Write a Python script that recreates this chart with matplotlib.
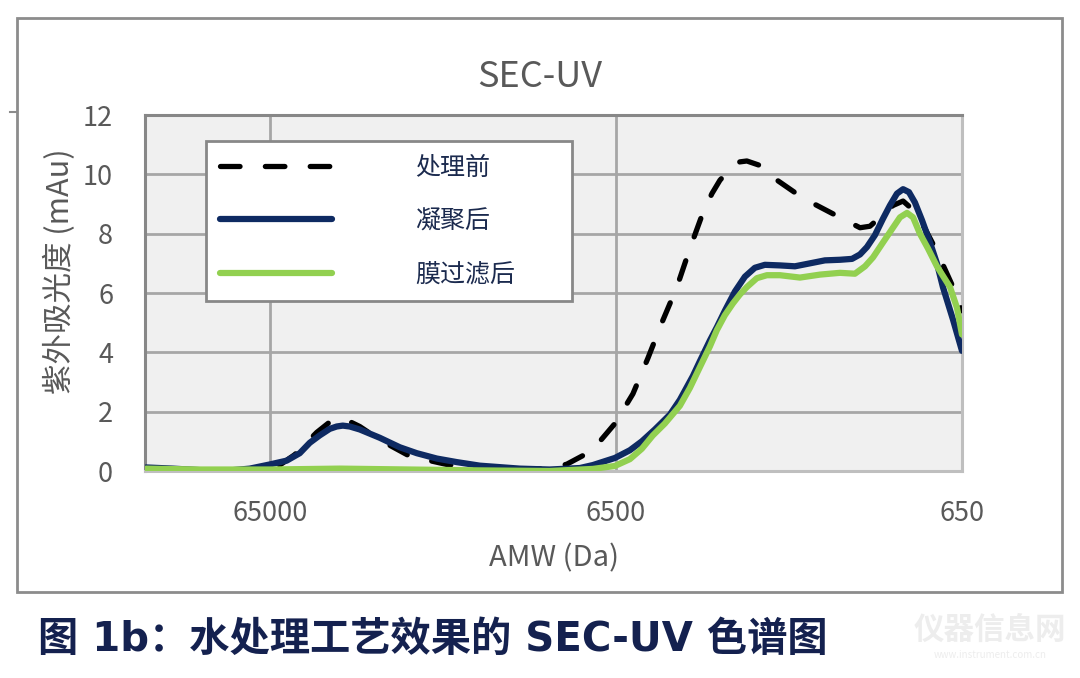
import matplotlib
matplotlib.use("Agg")
import matplotlib.pyplot as plt
from matplotlib.patches import Rectangle
from matplotlib.lines import Line2D
from matplotlib.ticker import NullLocator, FixedLocator

plt.rcParams['font.family'] = ['Noto Sans CJK SC', 'DejaVu Sans']

# ---------------- data ----------------
series_labels = ['处理前', '凝聚后', '膜过滤后']

mw_before = [148000, 123900, 84800, 65000, 60810, 55030, 47550, 43600, 39980, 35710,
             31260, 25600, 20010, 16070, 12310, 10090, 9005, 7626, 6540, 5803,
             5253, 4786, 4331, 3972, 3644, 3431, 3253, 2983, 2848, 2719, 2493, 2287,
             1873, 1494, 1281, 1199, 1122, 1029, 962, 900, 843, 768, 690, 650]
uv_before = [0.02, 0.0, 0.0, 0.05, 0.2, 0.55, 1.3, 1.65, 1.78, 1.5,
             1.05, 0.5, 0.22, 0.1, 0.05, 0.08, 0.23, 0.68, 1.6, 2.6,
             3.8, 5.0, 6.2, 7.5, 8.7, 9.35, 9.8, 10.3, 10.42, 10.45, 10.3, 9.9,
             9.2, 8.6, 8.2, 8.25, 8.55, 8.95, 9.1, 8.8, 8.3, 7.4, 6.2, 5.4]

mw_coag = [148000, 123900, 103600, 84800, 74260, 65000, 58040, 53230, 49810, 46610,
           43600, 41630, 39980, 38160, 35710, 31260, 27360, 24430, 21390, 18730,
           16070, 12310, 10090, 8260, 7575, 6540, 5920, 5468, 5015, 4537,
           4245, 3894, 3717, 3477, 3319, 3148, 2944, 2755, 2578, 2412,
           2183, 1975, 1787, 1618, 1464, 1351, 1281, 1223, 1160, 1100,
           1050, 1002, 962, 925, 889, 848, 804, 768, 738, 690, 650]
uv_coag = [0.12, 0.08, 0.03, 0.02, 0.08, 0.22, 0.35, 0.6, 0.95, 1.2,
           1.42, 1.5, 1.53, 1.5, 1.4, 1.12, 0.8, 0.6, 0.42, 0.3,
           0.18, 0.08, 0.05, 0.1, 0.2, 0.44, 0.7, 1.0, 1.4, 1.9,
           2.4, 3.2, 3.7, 4.4, 4.85, 5.4, 6.05, 6.55, 6.85, 6.95,
           6.93, 6.9, 7.0, 7.1, 7.12, 7.15, 7.3, 7.55, 7.95, 8.5,
           8.95, 9.35, 9.5, 9.4, 9.05, 8.45, 7.7, 7.0, 6.2, 5.1, 4.05]

mw_membrane = [148000, 103600, 65000, 40790, 25600, 16070, 10090, 7575, 6540, 5920,
               5468, 5082, 4692, 4245, 3972, 3717, 3477, 3319, 3148, 2983,
               2848, 2719, 2544, 2380, 2183, 1910, 1672, 1464, 1325, 1239,
               1175, 1100, 1029, 982, 937, 900, 860, 815, 768, 704, 672, 650]
uv_membrane = [0.08, 0.05, 0.05, 0.08, 0.05, 0.02, 0.0, 0.07, 0.17, 0.4,
               0.75, 1.2, 1.6, 2.2, 2.8, 3.5, 4.2, 4.75, 5.25, 5.65,
               5.95, 6.2, 6.5, 6.6, 6.6, 6.52, 6.62, 6.68, 6.65, 6.9,
               7.2, 7.7, 8.2, 8.55, 8.7, 8.55, 8.0, 7.5, 6.9, 6.2, 5.5, 4.6]

x_ticks = [65000, 6500, 650]
x_tick_labels = ['65000', '6500', '650']
y_ticks = [0, 2, 4, 6, 8, 10, 12]

# ---------------- figure ----------------
W, H = 1080, 678
fig = plt.figure(figsize=(W / 100, H / 100), dpi=100)
fig.patch.set_facecolor('white')

ax = fig.add_axes([145 / W, 1 - 471 / H, 817 / W, 356 / H])
ax.set_facecolor('#F0F0F0')

l1, = ax.plot(mw_before, uv_before, color='black', lw=3.8, dashes=(3.7, 4.8),
              dash_capstyle='round', solid_capstyle='round', zorder=3)
l2, = ax.plot(mw_coag, uv_coag, color='#0E2A62', lw=4.5,
              solid_capstyle='round', solid_joinstyle='round', zorder=4)
l3, = ax.plot(mw_membrane, uv_membrane, color='#92D050', lw=4.5,
              solid_capstyle='round', solid_joinstyle='round', zorder=5)

ax.set_xscale('log')
ax.set_xlim(149000, 650)
ax.set_ylim(0, 12)
ax.xaxis.set_major_locator(FixedLocator(x_ticks))
ax.xaxis.set_minor_locator(NullLocator())
ax.set_xticklabels(x_tick_labels)
ax.set_yticks(y_ticks)

ax.set_axisbelow(True)
ax.grid(True, which='major', color='#A6A6A6', lw=2.0)
ax.tick_params(axis='both', length=0, labelsize=19.5, labelcolor='#595959')
ax.tick_params(axis='y', pad=23)
ax.tick_params(axis='x', pad=21)

for side in ('left', 'top'):
    ax.spines[side].set_color('#878787')
    ax.spines[side].set_linewidth(2.2)
for side in ('right', 'bottom'):
    ax.spines[side].set_color('#BFBFBF')
    ax.spines[side].set_linewidth(2.2)

ax.set_xlabel('AMW (Da)', fontsize=21, color='#595959', labelpad=12)
ax.set_ylabel('紫外吸光度 (mAu)', fontsize=22, color='#595959')
ax.yaxis.set_label_coords(-0.085, 0.562)

leg = ax.legend([l1, l2, l3], series_labels, loc='upper left',
                bbox_to_anchor=(0.0747, 0.489, 0.448, 0.438), mode='expand',
                borderaxespad=0, fontsize=18, handlelength=4.5, handletextpad=3.3,
                labelspacing=1.1, borderpad=0.55, fancybox=False, framealpha=1,
                facecolor='white', edgecolor='#888888')
leg.get_frame().set_linewidth(2.0)
leg.set_zorder(10)
for t in leg.get_texts():
    t.set_color('#1B2A4E')

# title
fig.text(540 / W, 1 - 77 / H, 'SEC-UV', ha='center', va='center',
         fontsize=26, color='#595959')

# outer frame
fig.add_artist(Rectangle((17 / W, 1 - 592 / H), (1062 - 17) / W, (592 - 18) / H,
                         transform=fig.transFigure, fill=False,
                         edgecolor='#8C8C8C', lw=2.0))
fig.add_artist(Line2D([10 / W, 17 / W], [1 - 112 / H, 1 - 112 / H],
                      transform=fig.transFigure, color='#8C8C8C', lw=1.5))

# caption
fig.text(38 / W, 1 - 640 / H, '图 1b：水处理工艺效果的 SEC-UV 色谱图',
         ha='left', va='center', fontsize=29, fontweight='bold', color='#14214F',
         family=['DejaVu Sans', 'Noto Sans CJK SC'])

# watermark
fig.text(990 / W, 1 - 630 / H, '仪器信息网', ha='center', va='center',
         fontsize=22, fontweight='bold', color='#EDEDED')
fig.text(990 / W, 1 - 655 / H, 'www.instrument.com.cn', ha='center', va='center',
         fontsize=7, color='#EDEDED')

fig.savefig('out.png', dpi=100)
